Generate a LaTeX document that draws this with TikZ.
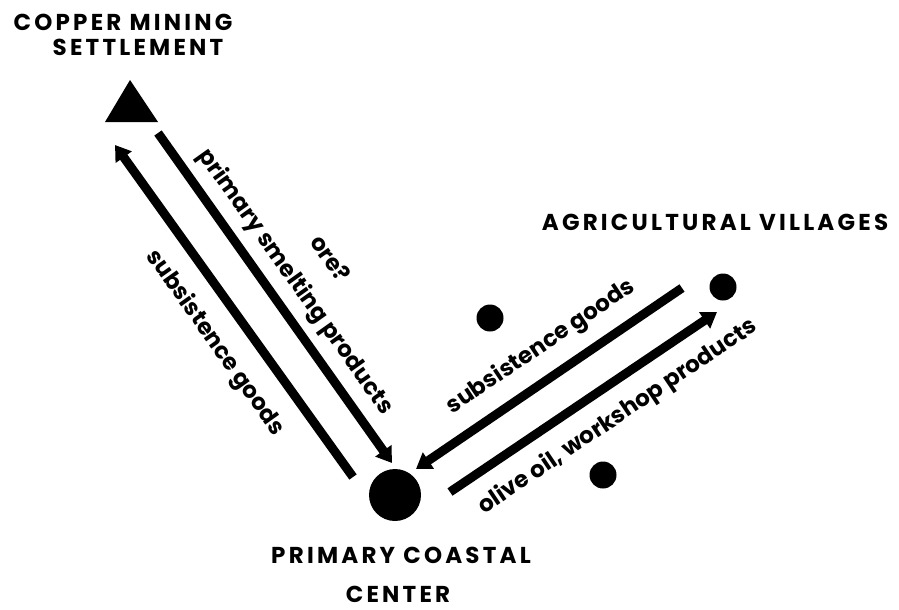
\documentclass[tikz,border=0pt]{standalone}
\usepackage{fontspec}
\setmainfont{Poppins}
\usetikzlibrary{arrows.meta}
\begin{document}
\begin{tikzpicture}[x=1pt,y=-1pt,
  flow/.style={line width=9pt,-{Triangle[length=15pt,width=19pt]}},
  title/.style={inner sep=0.5pt,font=\fontsize{23}{25}\selectfont\bfseries\addfontfeature{LetterSpace=14}},
  lbl/.style={font=\fontsize{23}{25}\selectfont\bfseries},
  dot/.style={circle,fill,inner sep=0pt,minimum size=27pt}]
\useasboundingbox (0,0) rectangle (899,610);
% places
\fill (130,80) -- (105,122) -- (158,122) -- cycle;
\coordinate (copper) at (131,108);
\node[dot,minimum size=52pt] (center) at (395,495) {};
\node[dot] (v1) at (723,287) {};
\node[dot] (v2) at (490,318) {};
\node[dot] (v3) at (603,475) {};
% titles
\node[title] (t1) at (123,22) {COPPER MINING};
\node[title] (t2) at (138,47) {SETTLEMENT};
\node[title] (t3) at (715,222) {AGRICULTURAL VILLAGES};
\node[title] (t4) at (401,555) {PRIMARY COASTAL};
\node[title] (t5) at (398,594) {CENTER};
% arrow ends
\coordinate (a1s) at (158,133); \coordinate (a1e) at (392,463);
\coordinate (a2s) at (353,477); \coordinate (a2e) at (115,145);
\coordinate (a3s) at (682,288); \coordinate (a3e) at (416,469);
\coordinate (a4s) at (450,492); \coordinate (a4e) at (717,312);
\draw[flow] (a1s) -- (a1e);
\draw[flow] (a2s) -- (a2e);
\draw[flow] (a3s) -- (a3e);
\draw[flow] (a4s) -- (a4e);
% labels
\node[lbl,rotate=-54.6] (l1) at (295,282) {primary smelting products};
\node[lbl,rotate=-54.6] (l2) at (331,258) {ore?};
\node[lbl,rotate=-54.6] (l3) at (215,343) {subsistence goods};
\node[lbl,rotate=34] (l4) at (541,347) {subsistence goods};
\node[lbl,rotate=34] (l5) at (618,417) {olive oil, workshop products};
\end{tikzpicture}
\end{document}
